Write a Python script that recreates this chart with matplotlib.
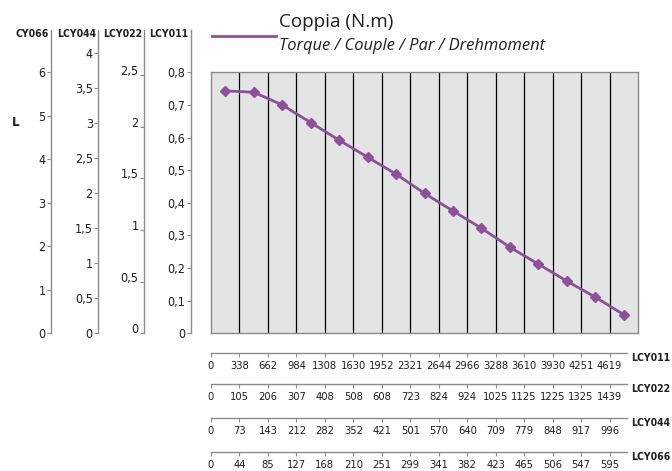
import matplotlib
matplotlib.use("Agg")
import matplotlib.pyplot as plt
from matplotlib.lines import Line2D
from matplotlib.ticker import FixedLocator
import numpy as np

# ---------------- data ----------------
torque = [0.743, 0.739, 0.700, 0.646, 0.592, 0.540, 0.488, 0.429,
          0.375, 0.322, 0.264, 0.212, 0.160, 0.111, 0.057]

speed_lcy011 = [0, 338, 662, 984, 1308, 1630, 1952, 2321, 2644, 2966,
                3288, 3610, 3930, 4251, 4619]
speed_lcy022 = [0, 105, 206, 307, 408, 508, 608, 723, 824, 924,
                1025, 1125, 1225, 1325, 1439]
speed_lcy044 = [0, 73, 143, 212, 282, 352, 421, 501, 570, 640,
                709, 779, 848, 917, 996]
speed_lcy066 = [0, 44, 85, 127, 168, 210, 251, 299, 341, 382,
                423, 465, 506, 547, 595]

ticks_cy066 = [0, 1, 2, 3, 4, 5, 6]
ticks_lcy044 = [0, 0.5, 1, 1.5, 2, 2.5, 3, 3.5, 4]
ticks_lcy022 = [0, 0.5, 1, 1.5, 2, 2.5]
ticks_lcy011 = [0, 0.1, 0.2, 0.3, 0.4, 0.5, 0.6, 0.7, 0.8]

left_names = ["CY066", "LCY044", "LCY022", "LCY011"]
bottom_names = ["LCY011", "LCY022", "LCY044", "LCY066"]

title_main = "Coppia (N.m)"
title_sub = "Torque / Couple / Par / Drehmoment"

# ---------------- style ----------------
W, H = 672, 471
PURPLE = "#8E4F9B"
GRAY = "#8A8A8A"
TXT = "#1E1E1E"
NARROW = dict(family="DejaVu Sans", fontstretch="condensed")
BOLD = dict(family="DejaVu Sans", fontstretch="condensed", fontweight="bold")

fig = plt.figure(figsize=(W / 100, H / 100), dpi=100)


def fr(x0, y0, x1, y1):
    return [x0 / W, 1 - y1 / H, (x1 - x0) / W, (y1 - y0) / H]


def fmt(v):
    return ("%g" % v).replace(".", ",")


# ---------------- main plot ----------------
PX0, PX1, PY0, PY1 = 211, 638, 72.3, 333.3
ax = fig.add_axes(fr(PX0, PY0, PX1, PY1))
ax.set_facecolor("#E3E5E4")
n = len(torque)
ax.set_xlim(0, n)
ax.set_ylim(0, 0.8)
ax.set_xticks(np.arange(1, n))
ax.set_yticks([])
ax.tick_params(axis="x", length=0, labelbottom=False)
ax.grid(axis="x", color="black", linewidth=0.9)
for s in ax.spines.values():
    s.set_color(GRAY)
    s.set_linewidth(1.0)
ax.plot(np.arange(n) + 0.5, torque, color=PURPLE, linewidth=2,
        marker="D", markersize=5, markerfacecolor=PURPLE,
        markeredgecolor=PURPLE, zorder=3)

# ---------------- left axes ----------------
left_x = [51, 98.3, 144, 190.7]
left_ticks = [ticks_cy066, ticks_lcy044, ticks_lcy022, ticks_lcy011]
left_scale = [43.5, 70.0, 103.3, 326.25]  # px per unit
AX_TOP, AX_BOT = 30, 333.3
for x, tks, sc, name in zip(left_x, left_ticks, left_scale, left_names):
    la = fig.add_axes(fr(x, AX_TOP, x + 1, AX_BOT))
    la.set_facecolor("none")
    for k in ["top", "right", "bottom"]:
        la.spines[k].set_visible(False)
    la.spines["left"].set_color(GRAY)
    la.spines["left"].set_linewidth(1.0)
    la.set_xticks([])
    la.set_ylim(0, (AX_BOT - AX_TOP) / sc)
    la.set_yticks(tks)
    la.set_yticklabels([fmt(t) for t in tks], fontsize=9, color=TXT, **NARROW)
    la.tick_params(axis="y", direction="out", length=3, width=0.8,
                   color=GRAY, pad=1)
    if name == "LCY022":
        for t in la.get_yticklabels():
            t.set_va("baseline")
        la.yaxis.set_minor_locator(FixedLocator([tks[-1]]))
        la.tick_params(axis="y", which="minor", direction="inout",
                       length=8, width=1.0, color="black")
    fig.text((x - 2) / W, 1 - 34 / H, name, ha="right", va="center",
             fontsize=7.5, color=TXT, **BOLD)

fig.text(12 / W, 1 - 123 / H, "L", ha="left", va="center",
         fontsize=9.5, color=TXT, **BOLD)

# ---------------- bottom axes ----------------
bottom_y = [352.7, 384.0, 418.3, 451.7]
bottom_speeds = [speed_lcy011, speed_lcy022, speed_lcy044, speed_lcy066]
for y, sp, name in zip(bottom_y, bottom_speeds, bottom_names):
    ba = fig.add_axes(fr(PX0, y - 2, PX1, y))
    ba.set_facecolor("none")
    for k in ["top", "right", "left"]:
        ba.spines[k].set_visible(False)
    ba.spines["bottom"].set_color(GRAY)
    ba.spines["bottom"].set_linewidth(1.0)
    ba.spines["bottom"].set_bounds(0, len(sp) - 0.4)
    ba.set_xlim(0, n)
    ba.set_yticks([])
    ba.set_xticks(np.arange(len(sp)))
    ba.set_xticklabels([str(v) for v in sp], fontsize=8, color=TXT, **NARROW)
    ba.tick_params(axis="x", direction="out", length=3, width=0.8,
                   color=GRAY, pad=2.8)
    fig.text(670 / W, 1 - (y + 5) / H, name, ha="right", va="center",
             fontsize=7.5, color=TXT, **BOLD)

# ---------------- legend / titles ----------------
fig.add_artist(Line2D([212 / W, 276 / W], [1 - 35.7 / H, 1 - 35.7 / H],
                      transform=fig.transFigure, color=PURPLE, linewidth=2))
fig.text(279 / W, 1 - 22 / H, title_main, ha="left", va="center",
         family=["Open Sans", "DejaVu Sans"], fontsize=13.6, color=TXT)
fig.text(279 / W, 1 - 46 / H, title_sub, ha="left", va="center",
         family=["Open Sans", "DejaVu Sans"], style="italic",
         fontsize=11.9, color=TXT)

fig.savefig("out.png", dpi=100)
